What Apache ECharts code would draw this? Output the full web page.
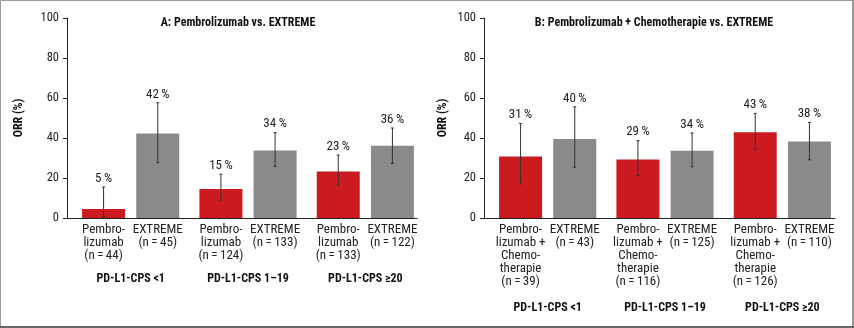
<!DOCTYPE html>
<html>
<head>
<meta charset="utf-8">
<script src="https://cdn.jsdelivr.net/npm/echarts@6/dist/echarts.min.js"></script>
<style>
html,body{margin:0;padding:0;background:#fff;}
#c{width:854px;height:328px;}
</style>
</head>
<body>
<div id="c"></div>
<script>
// ---------- data ----------
const groups = ['PD-L1-CPS <1', 'PD-L1-CPS 1\u201319', 'PD-L1-CPS \u226520'];
const yMin = 0, yMax = 100, yStep = 20;

const titleA = 'A: Pembrolizumab vs. EXTREME';
const titleB = 'B: Pembrolizumab + Chemotherapie vs. EXTREME';
const yName = 'ORR (%)';

// Panel A
const aPembro      = [4.5, 14.5, 23.3];
const aPembroLow   = [0.6, 8.9, 16.3];
const aPembroHigh  = [15.5, 21.9, 31.5];
const aPembroNames = ['Pembro-\nlizumab\n(n\u2009=\u200944)', 'Pembro-\nlizumab\n(n\u2009=\u2009124)', 'Pembro-\nlizumab\n(n\u2009=\u2009133)'];
const aExtreme      = [42.2, 33.8, 36.1];
const aExtremeLow   = [27.7, 25.8, 27.3];
const aExtremeHigh  = [57.6, 42.7, 45.0];
const aExtremeNames = ['EXTREME\n(n\u2009=\u200945)', 'EXTREME\n(n\u2009=\u2009133)', 'EXTREME\n(n\u2009=\u2009122)'];

// Panel B
const bPembro      = [30.8, 29.3, 42.9];
const bPembroLow   = [17.0, 21.3, 34.1];
const bPembroHigh  = [47.3, 38.7, 52.3];
const bPembroNames = ['Pembro-\nlizumab +\nChemo-\ntherapie\n(n\u2009=\u200939)', 'Pembro-\nlizumab +\nChemo-\ntherapie\n(n\u2009=\u2009116)', 'Pembro-\nlizumab +\nChemo-\ntherapie\n(n\u2009=\u2009126)'];
const bExtreme      = [39.5, 33.6, 38.2];
const bExtremeLow   = [25.4, 25.6, 29.1];
const bExtremeHigh  = [55.6, 42.5, 47.8];
const bExtremeNames = ['EXTREME\n(n\u2009=\u200943)', 'EXTREME\n(n\u2009=\u2009125)', 'EXTREME\n(n\u2009=\u2009110)'];

// ---------- style ----------
const FONT = "'Liberation Sans Narrow', 'Roboto Condensed', 'Liberation Sans', sans-serif";
const RED = '#CC1B20';
const GREY = '#8A8A8A';
const TXT = '#222222';
const BW = 43;
const GAP = '26%';

const chart = echarts.init(document.getElementById('c'), null, {renderer: 'canvas'});

function pct(v) { return Math.round(v) + '\u2009%'; }

function errSeries(xi, yi, seriesIdx, vals, lows, highs) {
  return {
    type: 'custom',
    xAxisIndex: xi, yAxisIndex: yi,
    z: 5,
    silent: true,
    data: vals.map((v, i) => [i, lows[i], highs[i]]),
    renderItem: function (params, api) {
      const i = api.value(0);
      const lay = api.barLayout({barWidth: BW, barGap: GAP, count: 2});
      const c = api.coord([i, 0]);
      const x = c[0] + lay[seriesIdx].offsetCenter;
      const yl = api.coord([i, api.value(1)])[1];
      const yh = api.coord([i, api.value(2)])[1];
      const st = {stroke: '#333', lineWidth: 1};
      return {
        type: 'group',
        children: [
          {type: 'line', shape: {x1: x, y1: yl, x2: x, y2: yh}, style: st},
          {type: 'line', shape: {x1: x - 1.5, y1: yh, x2: x + 1.5, y2: yh}, style: st},
          {type: 'line', shape: {x1: x - 1.5, y1: yl, x2: x + 1.5, y2: yl}, style: st},
          {type: 'text', x: x, y: yh - 2, style: {
            text: pct(vals[params.dataIndex]), align: 'center', verticalAlign: 'bottom',
            font: '13px ' + FONT, fill: TXT}}
        ]
      };
    }
  };
}

function barSeries(xi, yi, vals, names, color) {
  return {
    type: 'bar',
    xAxisIndex: xi, yAxisIndex: yi,
    barWidth: BW, barGap: GAP,
    itemStyle: {color: color},
    silent: true,
    label: {
      show: true, position: 'bottom', distance: 5,
      formatter: p => names[p.dataIndex],
      fontFamily: FONT, fontSize: 13, lineHeight: 13, color: TXT, align: 'center'
    },
    data: vals
  };
}

function axisGrid(left, width) { return {left: left, top: 18, width: width, height: 200}; }

const option = {
  animation: false,
  backgroundColor: '#fff',
  textStyle: {fontFamily: FONT},
  grid: [
    axisGrid(67, 350),   // A axes
    axisGrid(72, 352),   // A data
    axisGrid(484, 351),  // B axes
    axisGrid(489, 352)   // B data
  ],
  xAxis: [
    {gridIndex: 0, type: 'category', data: groups, axisLabel: {show: false}, axisTick: {show: false},
     axisLine: {lineStyle: {color: '#222', width: 1}}},
    {gridIndex: 1, type: 'category', data: groups, axisLine: {show: false}, axisTick: {show: false},
     axisLabel: {margin: 55, fontFamily: FONT, fontSize: 12, fontWeight: 'bold', color: '#111'}},
    {gridIndex: 2, type: 'category', data: groups, axisLabel: {show: false}, axisTick: {show: false},
     axisLine: {lineStyle: {color: '#222', width: 1}}},
    {gridIndex: 3, type: 'category', data: groups, axisLine: {show: false}, axisTick: {show: false},
     axisLabel: {margin: 84, fontFamily: FONT, fontSize: 12, fontWeight: 'bold', color: '#111'}}
  ],
  yAxis: [
    {gridIndex: 0, type: 'value', min: yMin, max: yMax, interval: yStep, splitLine: {show: false},
     axisLine: {show: true, lineStyle: {color: '#222'}}, axisTick: {show: true, length: 4, lineStyle: {color: '#222'}},
     axisLabel: {margin: 8, fontFamily: FONT, fontSize: 12.5, color: TXT},
     name: yName, nameLocation: 'middle', nameGap: 42, nameRotate: 90,
     nameTextStyle: {fontFamily: FONT, fontSize: 12, fontWeight: 'bold', color: '#111'}},
    {gridIndex: 1, type: 'value', min: yMin, max: yMax, show: false},
    {gridIndex: 2, type: 'value', min: yMin, max: yMax, interval: yStep, splitLine: {show: false},
     axisLine: {show: true, lineStyle: {color: '#222'}}, axisTick: {show: true, length: 4, lineStyle: {color: '#222'}},
     axisLabel: {margin: 8, fontFamily: FONT, fontSize: 12.5, color: TXT},
     name: yName, nameLocation: 'middle', nameGap: 35, nameRotate: 90,
     nameTextStyle: {fontFamily: FONT, fontSize: 12, fontWeight: 'bold', color: '#111'}},
    {gridIndex: 3, type: 'value', min: yMin, max: yMax, show: false}
  ],
  graphic: [
    {type: 'rect', shape: {x: 0.5, y: 0.5, width: 852.5, height: 326.5}, style: {fill: 'none', stroke: '#9a9a9a', lineWidth: 1}, silent: true},
    {type: 'line', shape: {x1: 0, y1: 327, x2: 854, y2: 327}, style: {stroke: '#444', lineWidth: 1.5}, silent: true},
    {type: 'line', shape: {x1: 853, y1: 0, x2: 853, y2: 328}, style: {stroke: '#666', lineWidth: 1}, silent: true},
    {type: 'text', x: 238, y: 23, style: {text: titleA, align: 'center', verticalAlign: 'middle', font: 'bold 12px ' + FONT, fill: '#111'}},
    {type: 'text', x: 654, y: 23, style: {text: titleB, align: 'center', verticalAlign: 'middle', font: 'bold 12px ' + FONT, fill: '#111'}}
  ],
  series: [
    barSeries(1, 1, aPembro, aPembroNames, RED),
    barSeries(1, 1, aExtreme, aExtremeNames, GREY),
    errSeries(1, 1, 0, aPembro, aPembroLow, aPembroHigh),
    errSeries(1, 1, 1, aExtreme, aExtremeLow, aExtremeHigh),
    barSeries(3, 3, bPembro, bPembroNames, RED),
    barSeries(3, 3, bExtreme, bExtremeNames, GREY),
    errSeries(3, 3, 0, bPembro, bPembroLow, bPembroHigh),
    errSeries(3, 3, 1, bExtreme, bExtremeLow, bExtremeHigh)
  ]
};
chart.setOption(option);
</script>
</body>
</html>
